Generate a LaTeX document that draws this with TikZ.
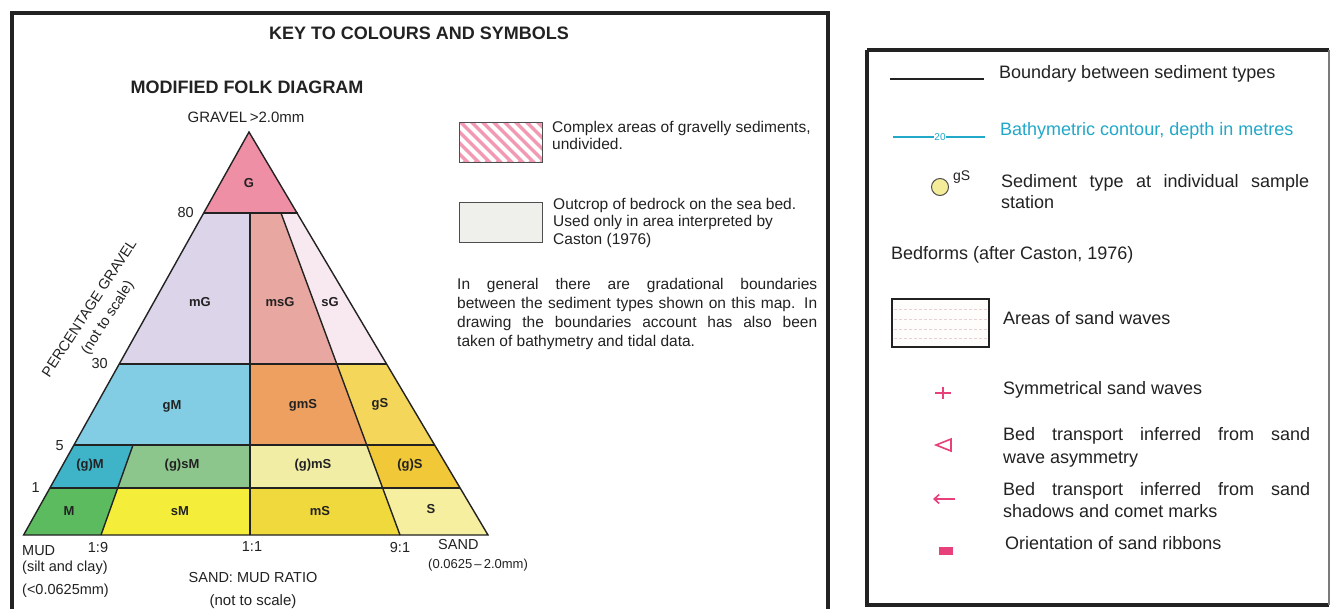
\documentclass[tikz,border=0pt]{standalone}
\usepackage{fontspec}
\setmainfont{Liberation Sans}
\usetikzlibrary{calc,arrows.meta}
\newcommand\fsz[1]{\fontsize{#1}{#1}\selectfont}
\definecolor{ink}{HTML}{222222}
\definecolor{cG}{HTML}{EE8FA5}
\definecolor{cmG}{HTML}{DCD5EA}
\definecolor{cmsG}{HTML}{E8A7A0}
\definecolor{csG}{HTML}{F7E9EF}
\definecolor{cgM}{HTML}{82CDE3}
\definecolor{cgmS}{HTML}{EDA060}
\definecolor{cgS}{HTML}{F3D65A}
\definecolor{cpgM}{HTML}{3FB3C8}
\definecolor{cpgsM}{HTML}{8DC68D}
\definecolor{cpgmS}{HTML}{F1EDA5}
\definecolor{cpgS}{HTML}{F1C838}
\definecolor{cM}{HTML}{5BBB5E}
\definecolor{csM}{HTML}{F4EE3A}
\definecolor{cmS}{HTML}{F0D93C}
\definecolor{cS}{HTML}{F6EFA0}
\definecolor{cyanline}{HTML}{22A8C8}
\definecolor{pinksym}{HTML}{E8407A}
\definecolor{hatchpink}{HTML}{F29AB4}
\definecolor{rockfill}{HTML}{EFF0EC}
\definecolor{stnfill}{HTML}{F5EC9A}
\begin{document}
\begin{tikzpicture}[x=1pt,y=-1pt,
  txt/.style={inner sep=0pt,text=ink,font=\fsz{15.5}},
  rtxt/.style={inner sep=0pt,text=ink,font=\fsz{18}},
  axl/.style={inner sep=0pt,text=ink,font=\fsz{14.5}},
  cell/.style={inner sep=0pt,text=ink,font=\fsz{13}\bfseries},
  ttl/.style={inner sep=0pt,text=ink,font=\fsz{18}\bfseries},
  frame/.style={line width=4.5pt,draw=ink},
  bnd/.style={line width=1.4pt,draw=ink},
  sym/.style={draw=pinksym,line width=1.6pt}]
\useasboundingbox (0,0) rectangle (1332,608);
\fill[white] (0,0) rectangle (1332,608);
% frames
\draw[frame] (12,13) rectangle (828,640);
\draw[frame] (867,50) -- (867,605) -- (1329,605);
\draw[frame] (867,50) -- (1329,50);
\draw[line width=1.5pt,draw=ink!60] (1329,50) -- (1329,605);
% titles
\node[ttl] (key) at (419,33) {KEY TO COLOURS AND SYMBOLS};
\node[ttl] (folk) at (247,87) {MODIFIED FOLK DIAGRAM};
\node[axl,font=\fsz{15}] (grav) at (246,117) {GRAVEL\,>2.0mm};
% Folk regions
\fill[cG] (249,132) -- (297,213) -- (203.7,213) -- cycle;
\fill[cmG] (203.7,213) -- (250,213) -- (250,364) -- (119.2,364) -- cycle;
\fill[cmsG] (250,213) -- (281,213) -- (336.8,364) -- (250,364) -- cycle;
\fill[csG] (281,213) -- (297,213) -- (386.6,364) -- (336.8,364) -- cycle;
\fill[cgM] (119.2,364) -- (250,364) -- (250,445) -- (73.9,445) -- cycle;
\fill[cgmS] (250,364) -- (336.8,364) -- (366.7,445) -- (250,445) -- cycle;
\fill[cgS] (336.8,364) -- (386.6,364) -- (434.6,445) -- (366.7,445) -- cycle;
\fill[cpgM] (73.9,445) -- (133,445) -- (117.7,488) -- (49.9,488) -- cycle;
\fill[cpgsM] (133,445) -- (250,445) -- (250,488) -- (117.7,488) -- cycle;
\fill[cpgmS] (250,445) -- (366.7,445) -- (382.6,488) -- (250,488) -- cycle;
\fill[cpgS] (366.7,445) -- (434.6,445) -- (460.1,488) -- (382.6,488) -- cycle;
\fill[cM] (49.9,488) -- (117.7,488) -- (101,535) -- (23.6,535) -- cycle;
\fill[csM] (117.7,488) -- (250,488) -- (250,535) -- (101,535) -- cycle;
\fill[cmS] (250,488) -- (382.6,488) -- (400,535) -- (250,535) -- cycle;
\fill[cS] (382.6,488) -- (460.1,488) -- (488,535) -- (400,535) -- cycle;
% boundaries
\draw[bnd,line join=miter] (249,132) -- (488,535) -- (23.6,535) -- cycle;
\draw[bnd] (203.7,213) -- (298,213);
\draw[bnd] (119.2,364) -- (386.6,364);
\draw[bnd] (73.9,445) -- (434.6,445);
\draw[bnd] (49.9,488) -- (460.1,488);
\draw[bnd] (250,213) -- (250,535);
\draw[bnd] (281,213) -- (400,535);
\draw[bnd] (133,445) -- (101,535);
% cell labels
\node[cell] (lG) at (249,183) {G};
\node[cell] (lmG) at (200,302) {mG};
\node[cell] (lmsG) at (280,302) {msG};
\node[cell] (lsG) at (330,302) {sG};
\node[cell] (lgM) at (172,406) {gM};
\node[cell] (lgmS) at (303,405) {gmS};
\node[cell] (lgS) at (380,404) {gS};
\node[cell] (lpgM) at (90,465) {(g)M};
\node[cell] (lpgsM) at (182,465) {(g)sM};
\node[cell] (lpgmS) at (313,465) {(g)mS};
\node[cell] (lpgS) at (410,465) {(g)S};
\node[cell] (lM) at (69,511) {M};
\node[cell] (lsM) at (180,511) {sM};
\node[cell] (lmS) at (320,511) {mS};
\node[cell] (lS) at (431,509) {S};
% axis labels
\node[axl,anchor=mid east] (a80) at (194,215) {80};
\node[axl,anchor=mid east] (a30) at (108,366) {30};
\node[axl,anchor=mid east] (a5) at (64,448) {5};
\node[axl,anchor=mid east] (a1) at (40,490) {1};
\node[axl,font=\fsz{14.5},rotate=57] (pg) at (89,308) {PERCENTAGE GRAVEL};
\node[axl,font=\fsz{14.5},rotate=57] (pgn) at (108,318) {(not to scale)};
\node[axl,anchor=mid west] (mud) at (22,553) {MUD};
\node[axl,anchor=mid west] (silt) at (22,569) {(silt and clay)};
\node[axl,anchor=mid west] (mudmm) at (22,592) {(<0.0625mm)};
\node[axl] (r19) at (98,547) {1:9};
\node[axl] (r11) at (252,547) {1:1};
\node[axl] (r91) at (400,547) {9:1};
\node[axl,anchor=mid west] (sand) at (438,547) {SAND};
\node[axl,font=\fsz{13},anchor=mid west] (sandmm) at (428,566) {(0.0625\,–\,2.0mm)};
\node[axl] (ratio) at (253,577) {SAND: MUD RATIO};
\node[axl,font=\fsz{15}] (ratiok) at (253,602) {(not to scale)};
% hatched box
\begin{scope}
\clip (459,122) rectangle (542,162);
\fill[hatchpink] (459,122) rectangle (542,162);
\foreach \i in {-48,-37,...,90} \draw[white,line width=4pt] (459+\i,122) -- ++(40,40);
\end{scope}
\draw[line width=1pt,draw=ink!80] (459,122) rectangle (542,162);
\node[txt,anchor=mid west] (cx1) at (552,130) {Complex areas of gravelly sediments,};
\node[txt,anchor=mid west] (cx2) at (552,147) {undivided.};
% bedrock box
\draw[line width=1pt,draw=ink!80,fill=rockfill] (459,202) rectangle (542,242);
\node[txt,anchor=mid west] (oc1) at (553,207) {Outcrop of bedrock on the sea bed.};
\node[txt,anchor=mid west] (oc2) at (553,224) {Used only in area interpreted by};
\node[txt,anchor=mid west] (oc3) at (553,242) {Caston (1976)};
% paragraph
\node[txt,anchor=mid west] (p1) at (457,287) {\makebox[360pt][s]{In general there are gradational boundaries}};
\node[txt,anchor=mid west] (p2) at (457,306) {\makebox[360pt][s]{between the sediment types shown on this map. In}};
\node[txt,anchor=mid west] (p3) at (457,325) {\makebox[360pt][s]{drawing the boundaries account has also been}};
\node[txt,anchor=mid west] (p4) at (457,344) {taken of bathymetry and tidal data.};
% right panel
\coordinate (b1) at (890,79);
\coordinate (b2) at (984,79);
\draw[line width=1.2pt,draw=ink] (b1) -- (b2);
\node[rtxt,anchor=mid west] (bt) at (999,76) {Boundary between sediment types};
\node[inner sep=0pt,text=cyanline,font=\fsz{10}] (c20) at (940,137) {20};
\coordinate (c1) at (893,137);
\coordinate (c2) at (985,137);
\draw[line width=1.2pt,draw=cyanline] (c1) -- (c20.west);
\draw[line width=1.2pt,draw=cyanline] (c20.east) -- (c2);
\node[rtxt,text=cyanline,anchor=mid west] (ct) at (1000,133) {Bathymetric contour, depth in metres};
\node[circle,draw=ink!80,line width=1pt,fill=stnfill,minimum size=17pt,inner sep=0pt] (stn) at (940,187) {};
\node[inner sep=0pt,text=ink,font=\fsz{14},anchor=mid west] (gs) at (953,178) {gS};
\node[rtxt,anchor=mid west] (st1) at (1001,185) {\makebox[308pt][s]{Sediment type at individual sample}};
\node[rtxt,anchor=mid west] (st2) at (1001,206) {station};
\node[rtxt,anchor=mid west] (bf) at (891,257) {Bedforms (after Caston, 1976)};
% sand waves box
\fill[white!95!pink] (892,299) rectangle (989,347);
\foreach \yy in {309,319,329,338} \draw[densely dashed,line width=0.5pt,draw=pink!60!gray!50] (894,\yy) -- (987,\yy);
\draw[line width=1.2pt,draw=ink] (892,299) rectangle (989,347);
\node[rtxt,anchor=mid west] (sw) at (1003,322) {Areas of sand waves};
% symmetrical cross
\coordinate (sx) at (943,393);
\draw[sym,line width=1.2pt] ($(sx)+(-8,0)$) -- ($(sx)+(8,0)$) ($(sx)+(0,-6)$) -- ($(sx)+(0,6)$);
\node[rtxt,anchor=mid west] (sy) at (1003,392) {Symmetrical sand waves};
% triangle symbol
\coordinate (tr) at (944,445);
\draw[sym,line join=miter] ($(tr)+(-8,0)$) -- ($(tr)+(7,-6)$) -- ($(tr)+(7,6)$) -- cycle;
\node[rtxt,anchor=mid west] (t1) at (1003,438) {\makebox[307pt][s]{Bed transport inferred from sand}};
\node[rtxt,anchor=mid west] (t2) at (1003,461) {wave asymmetry};
% arrow symbol
\coordinate (ar1) at (955,499);
\coordinate (ar2) at (933,499);
\draw[sym,-{Straight Barb[length=5pt,width=9pt]}] (ar1) -- (ar2);
\node[rtxt,anchor=mid west] (s1) at (1003,493) {\makebox[307pt][s]{Bed transport inferred from sand}};
\node[rtxt,anchor=mid west] (s2) at (1003,515) {shadows and comet marks};
% ribbon
\fill[pinksym] (939,547) rectangle (953,555);
\node[rtxt,anchor=mid west] (rb) at (1005,547) {Orientation of sand ribbons};
\end{tikzpicture}
\end{document}
